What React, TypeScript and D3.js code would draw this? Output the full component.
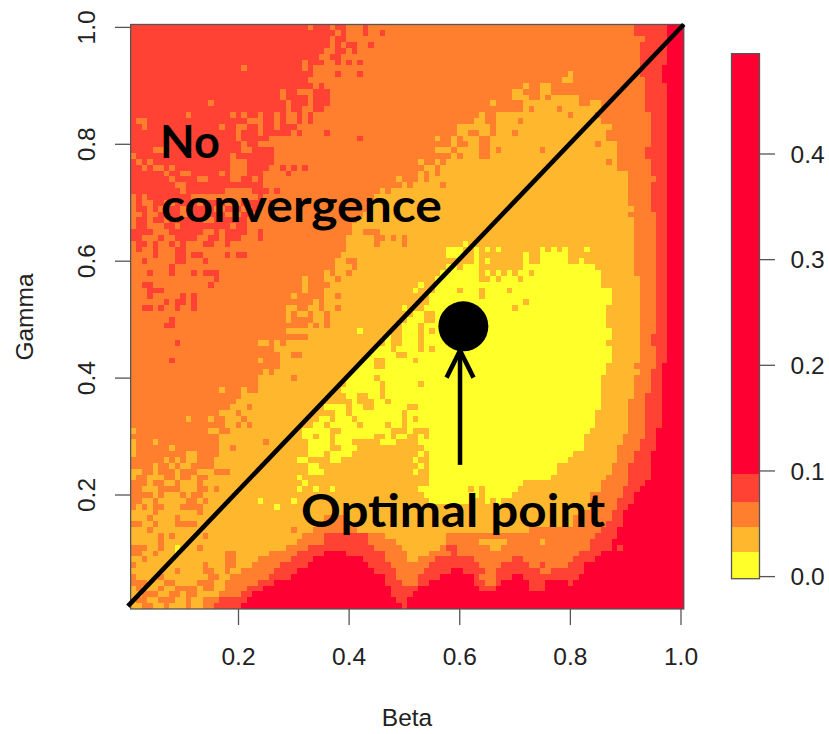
import * as d3 from "d3";

// band colours, lowest error first
const bandColors = ["#FFFF2A", "#FFB82E", "#FF7F2E", "#FF4233", "#FF0033"];
const bandEdges = [-0.002, 0.023, 0.047, 0.071, 0.097, 0.495];

const betaTicks = [0.2, 0.4, 0.6, 0.8, 1.0];
const gammaTicks = [0.2, 0.4, 0.6, 0.8, 1.0];
const errorTicks = [0, 0.1, 0.2, 0.3, 0.4];

const diagonalBeta = [0, 1.005];
const diagonalGamma = [0.01, 1.005];
const optimalPoint = [0.6065, 0.4885];
const arrowFrom = [0.6005, 0.2515];
const arrowTo = [0.6005, 0.447];

// one row per gamma step, top to bottom, written as "band endColumn band endColumn ..."
const rowRuns = [
  "3 32 2 33 3 36 2 37 3 39 2 42 3 43 2 91 3 97 4 100",
  "3 37 2 38 3 39 2 42 3 43 2 45 3 46 2 91 3 97 4 100",
  "3 36 2 37 3 39 2 93 3 97 4 100",
  "3 36 2 37 3 38 2 39 3 41 2 43 3 44 2 92 3 97 4 100",
  "3 35 2 37 3 39 2 40 3 41 2 92 3 97 4 100",
  "3 34 2 36 3 38 2 92 3 97 4 100",
  "3 31 2 32 3 35 2 37 3 38 2 39 3 40 2 41 3 42 2 92 3 97 4 100",
  "3 20 2 21 3 31 2 32 3 33 2 92 3 96 4 100",
  "3 33 2 37 3 38 2 41 3 42 2 79 1 80 2 92 3 96 4 100",
  "3 32 2 78 1 80 2 93 3 96 4 100",
  "3 33 2 34 3 35 2 71 1 72 2 74 1 76 2 93 3 97 4 100",
  "3 27 2 28 3 30 2 33 3 36 2 69 1 71 2 74 1 76 2 93 3 97 4 100",
  "3 27 2 28 3 32 2 33 3 36 2 69 1 72 2 74 1 75 2 76 1 81 2 93 3 97 4 100",
  "3 14 2 15 3 28 2 29 3 32 2 33 3 36 2 65 1 66 2 71 1 81 2 83 1 85 2 93 3 97 4 100",
  "3 28 2 29 3 31 2 33 3 35 2 71 1 72 2 73 1 77 2 78 1 85 2 93 3 97 4 100",
  "3 10 2 11 3 18 2 19 3 20 2 21 3 23 2 24 3 26 2 27 3 28 2 30 3 31 2 32 3 33 2 63 1 64 2 66 1 79 2 80 1 84 2 94 3 97 4 100",
  "3 1 2 3 3 21 2 24 3 26 2 27 3 28 2 30 3 31 2 32 3 33 2 62 1 64 2 66 1 70 2 71 1 85 2 94 3 97 4 100",
  "3 2 2 3 3 16 2 17 3 19 2 21 3 23 2 24 3 26 2 27 3 30 2 59 1 65 2 66 1 87 2 94 3 97 4 100",
  "3 19 2 20 3 23 2 24 3 29 2 30 3 31 2 35 3 36 2 59 1 61 2 63 1 65 2 66 1 69 2 70 1 86 2 94 3 97 4 100",
  "3 19 2 20 3 25 2 41 3 42 2 55 1 56 2 58 1 59 2 60 1 63 2 65 1 86 2 94 3 97 4 100",
  "3 20 2 21 3 23 2 28 2 58 1 59 2 61 1 63 2 65 1 84 2 85 1 88 2 94 3 97 4 100",
  "3 4 2 6 3 20 2 22 3 26 2 55 1 58 2 59 1 63 2 65 1 66 2 67 1 74 2 75 1 88 2 93 3 97 4 100",
  "2 1 3 18 2 19 3 26 2 58 1 59 2 60 1 63 2 65 1 88 2 93 3 97 4 100",
  "3 1 2 2 3 3 2 4 3 18 2 21 3 26 2 52 1 53 2 55 1 56 2 57 1 86 2 87 1 88 2 94 3 97 4 100",
  "3 2 2 3 3 4 2 6 3 7 2 8 3 18 2 21 3 25 2 27 3 28 2 29 3 30 2 31 3 32 2 53 1 55 2 56 1 88 2 94 3 97 4 100",
  "3 6 2 7 3 9 2 11 3 16 2 17 3 18 2 21 3 24 2 28 3 29 2 52 1 53 2 54 1 55 2 56 1 90 2 94 3 97 4 100",
  "3 7 2 8 3 12 2 14 3 18 2 20 3 22 2 23 3 24 2 48 1 49 2 52 1 53 2 54 1 90 2 95 3 97 4 100",
  "3 8 2 10 3 24 2 49 1 50 2 51 1 56 2 57 1 90 2 94 3 97 4 100",
  "3 9 2 10 3 17 2 22 3 25 2 26 3 27 2 45 1 46 2 47 1 90 2 94 3 97 4 100",
  "2 1 3 2 2 3 3 11 2 23 3 24 2 44 1 90 2 94 3 97 4 100",
  "2 1 3 2 2 4 3 6 2 8 3 12 2 13 3 17 2 20 3 24 2 25 3 26 2 43 1 90 2 94 3 97 4 100",
  "2 1 3 3 2 4 3 5 2 7 3 9 2 10 3 15 2 17 3 20 2 22 3 23 2 43 1 91 2 94 3 97 4 100",
  "2 2 3 3 2 5 3 9 2 11 3 17 2 20 3 22 2 42 1 90 2 95 3 97 4 100",
  "2 1 3 3 2 4 3 6 2 7 3 13 2 15 3 21 2 41 1 91 2 95 3 97 4 100",
  "2 1 3 3 2 6 3 8 2 9 3 18 2 19 3 21 2 40 1 91 2 95 3 97 4 100",
  "3 4 2 7 3 13 2 15 3 16 2 17 3 21 2 23 3 24 2 40 1 42 2 45 1 91 2 95 3 97 4 100",
  "3 2 2 5 3 6 2 8 3 12 2 14 3 16 2 17 3 20 2 23 3 24 2 39 1 44 2 46 1 47 2 48 1 49 2 50 1 91 2 95 3 97 4 100",
  "2 1 3 3 2 4 3 5 2 7 3 8 2 9 3 10 2 13 3 15 2 17 3 18 2 39 1 44 2 45 1 49 2 50 1 60 0 61 1 91 2 95 3 97 4 100",
  "2 1 3 2 2 4 3 5 2 8 3 10 2 39 1 57 0 60 1 62 0 63 1 64 0 65 1 66 0 67 1 74 0 75 1 76 0 77 1 78 0 79 1 82 0 83 1 91 2 95 3 97 4 100",
  "2 4 3 5 2 8 3 10 2 11 3 13 2 17 3 18 2 19 3 21 2 38 1 57 0 60 1 62 0 63 1 71 0 72 1 74 0 79 1 91 2 95 3 97 4 100",
  "2 2 3 3 2 8 3 10 2 13 3 14 2 37 1 39 2 41 1 62 0 63 1 64 0 65 1 71 0 72 1 74 0 79 1 81 0 82 1 91 2 95 3 97 4 100",
  "2 7 3 8 2 37 1 40 2 41 1 57 0 59 1 60 0 63 1 71 0 84 1 91 2 95 3 97 4 100",
  "2 3 3 4 2 7 3 8 2 11 3 12 2 13 3 16 2 35 1 36 2 37 1 39 2 40 1 56 0 63 1 64 0 65 1 66 0 67 1 68 0 69 1 70 0 72 1 73 0 85 1 91 2 95 3 97 4 100",
  "2 15 3 16 2 31 1 32 2 35 1 37 2 38 1 55 0 63 1 65 0 66 1 67 0 70 1 71 0 85 1 92 2 95 3 97 4 100",
  "2 2 3 4 2 14 3 15 2 31 1 32 2 36 1 52 0 53 1 55 0 85 1 92 2 95 3 97 4 100",
  "2 3 3 6 2 31 1 32 2 35 1 51 0 52 1 55 0 59 1 60 0 63 1 64 0 68 1 69 0 87 1 92 2 95 3 97 4 100",
  "2 3 3 4 2 9 3 10 2 11 3 12 2 29 1 30 2 35 1 37 2 38 1 54 0 63 1 64 0 87 1 92 2 95 3 97 4 100",
  "2 6 3 7 2 8 3 10 2 11 3 12 2 33 1 34 2 35 1 54 0 71 1 72 0 87 1 92 2 95 3 97 4 100",
  "2 2 3 4 2 5 3 6 2 8 3 9 2 11 3 12 2 28 1 30 2 32 1 34 2 35 1 37 2 38 1 49 0 50 1 53 0 69 1 70 0 86 1 92 2 95 3 97 4 100",
  "2 28 1 29 2 30 1 32 2 33 1 35 2 36 1 51 0 53 1 55 0 86 1 92 2 95 3 97 4 100",
  "2 7 3 8 2 28 1 29 2 33 1 35 2 36 1 50 0 53 1 55 0 86 1 92 2 95 3 97 4 100",
  "2 6 3 8 2 32 1 33 2 34 1 35 2 36 1 49 0 52 1 53 0 86 1 92 2 95 3 97 4 100",
  "2 28 1 41 0 42 1 49 0 52 1 53 0 54 1 55 0 87 1 92 2 95 3 97 4 100",
  "2 32 1 46 0 47 1 49 0 52 1 53 0 87 1 92 2 94 3 97 4 100",
  "2 8 3 9 2 23 1 25 2 26 1 27 2 28 1 46 0 47 1 49 0 52 1 53 0 86 1 92 2 94 3 97 4 100",
  "2 26 1 44 0 47 1 48 0 52 1 53 0 54 1 55 0 87 1 92 2 95 3 97 4 100",
  "2 27 1 29 2 31 1 43 0 48 1 50 0 87 1 92 2 95 3 97 4 100",
  "2 7 3 8 2 23 1 24 2 27 1 42 0 44 1 46 0 51 1 52 0 87 1 92 2 95 3 97 4 100",
  "2 27 1 41 0 44 1 46 0 86 1 91 2 95 3 96 4 100",
  "2 24 1 25 2 26 1 40 0 86 1 92 2 94 3 96 4 100",
  "2 23 1 29 2 30 1 39 0 44 1 45 0 85 1 91 2 94 3 96 4 100",
  "2 23 1 39 0 45 1 46 0 52 1 53 0 85 1 91 2 94 3 96 4 100",
  "2 16 1 17 2 20 1 21 2 23 1 38 0 45 1 46 0 85 1 91 2 94 3 96 4 100",
  "2 20 1 39 0 41 1 43 0 45 1 46 0 85 1 91 2 93 3 96 4 100",
  "2 19 1 40 0 41 1 44 0 46 1 47 0 85 1 90 2 93 3 96 4 100",
  "2 18 1 21 2 22 1 35 0 39 1 40 0 42 1 44 0 50 1 52 0 85 1 90 2 93 3 96 4 100",
  "2 16 1 19 2 20 1 37 0 39 1 40 0 49 1 50 0 84 1 90 2 93 3 96 4 100",
  "2 10 1 11 2 14 1 15 2 17 1 20 2 21 1 34 0 36 1 37 0 40 1 41 0 49 1 50 0 51 1 52 0 84 1 90 2 93 3 96 4 100",
  "2 17 1 19 2 20 1 21 2 22 1 33 0 35 1 36 0 41 1 42 0 46 1 47 0 49 1 50 0 84 1 90 2 93 3 96 4 100",
  "1 1 2 14 1 16 2 18 1 31 0 36 1 38 0 47 1 50 0 51 1 54 0 83 1 90 2 93 3 95 4 100",
  "2 16 1 31 0 33 1 34 0 36 1 37 0 44 1 46 0 47 1 48 0 50 1 52 0 53 1 54 0 82 1 89 2 93 3 95 4 100",
  "1 1 2 4 1 5 2 16 1 24 2 25 1 32 0 36 1 37 0 40 1 45 0 48 1 52 0 82 1 89 2 92 3 95 4 100",
  "1 1 2 7 1 8 2 16 1 18 2 19 1 32 0 36 1 38 0 41 1 53 0 82 1 88 2 92 3 95 4 100",
  "1 1 2 10 1 12 2 16 1 32 0 35 1 36 0 40 1 52 0 53 1 54 0 80 1 88 2 91 3 94 4 100",
  "2 6 1 7 2 8 1 9 2 10 1 12 2 15 1 30 0 32 1 36 0 38 1 51 0 52 1 54 0 79 1 88 2 91 3 94 4 100",
  "2 4 1 5 2 7 1 8 2 9 1 11 2 15 1 32 0 34 1 52 0 53 1 54 0 77 1 87 2 90 3 94 4 100",
  "1 2 2 4 1 5 2 8 1 9 2 12 1 15 2 18 1 32 0 35 1 51 0 52 1 54 0 77 1 87 2 90 3 94 4 100",
  "1 1 2 3 1 6 2 8 1 9 2 11 1 12 2 14 1 30 0 31 1 54 0 76 1 86 2 90 3 94 4 100",
  "2 3 1 4 2 6 1 8 2 9 1 12 2 13 1 31 0 32 1 54 0 71 1 85 2 90 3 93 4 100",
  "2 2 1 5 2 9 1 12 2 14 1 15 2 16 1 30 0 31 1 33 0 34 1 36 0 37 1 52 0 61 1 62 0 63 1 64 0 70 1 85 2 89 3 92 4 100",
  "2 4 1 5 2 6 1 9 2 10 1 11 2 13 1 53 0 63 1 64 0 69 1 83 2 89 3 91 4 100",
  "2 2 1 4 2 5 1 10 2 12 1 13 2 14 1 23 0 24 1 29 0 30 1 54 0 62 1 64 0 65 1 66 0 67 1 83 2 88 3 91 4 100",
  "2 1 1 2 2 3 1 4 2 6 1 9 2 13 1 26 0 27 1 83 2 88 3 90 4 100",
  "1 4 2 5 1 12 2 13 1 82 2 87 3 89 4 100",
  "1 3 2 4 1 8 2 9 1 35 2 39 1 80 2 87 3 89 4 100",
  "2 2 1 4 2 5 1 8 2 12 1 34 2 40 1 80 2 86 3 89 4 100",
  "1 3 2 4 1 29 2 30 1 33 2 41 1 72 2 85 3 88 4 100",
  "1 5 2 6 1 7 2 8 1 13 2 14 1 31 2 35 3 43 2 46 1 57 2 84 3 88 4 100",
  "1 5 2 6 1 30 2 35 3 43 2 48 1 57 2 63 1 68 2 74 1 75 2 83 3 87 4 100",
  "2 3 1 5 2 6 1 8 0 9 1 12 2 13 1 28 2 32 3 44 2 49 1 56 2 57 3 59 2 65 1 67 2 83 3 87 4 88 3 89 4 100",
  "2 2 1 4 2 5 1 8 0 9 1 17 2 19 1 25 2 30 3 35 4 39 3 46 2 50 1 54 2 58 3 59 2 81 3 85 4 100",
  "1 2 2 3 1 17 2 19 1 23 2 29 3 33 4 42 3 46 2 50 1 52 2 55 3 62 2 69 3 71 2 80 3 84 4 100",
  "2 1 1 13 2 14 1 17 2 19 1 22 2 27 3 32 4 43 3 47 2 54 3 63 2 67 3 72 2 74 3 75 2 79 3 82 4 100",
  "1 8 2 9 1 13 2 15 1 17 2 18 1 20 2 26 3 30 4 44 3 48 2 53 3 58 4 60 3 64 2 66 3 74 2 76 3 82 4 100",
  "2 1 1 5 2 6 1 14 2 16 1 18 2 25 3 29 4 46 3 48 2 52 3 56 4 62 3 63 2 66 3 69 4 71 3 81 4 100",
  "2 3 1 6 2 8 1 12 2 15 1 17 2 23 3 26 4 46 3 49 2 52 3 54 4 62 3 64 2 66 3 67 4 72 3 75 4 79 3 80 4 100",
  "1 1 2 2 1 5 2 6 1 8 2 12 1 13 2 15 1 17 2 21 3 24 4 47 3 52 4 63 3 66 4 72 3 75 4 100",
  "1 2 2 5 1 7 2 9 1 10 2 12 1 16 2 20 3 22 4 47 3 51 4 100",
  "1 1 2 3 1 5 2 8 1 10 2 11 1 13 2 16 3 21 4 48 3 50 4 100",
  "1 2 2 4 1 6 2 7 1 10 2 11 1 13 2 15 3 20 4 49 3 50 4 100",
];

const cells = rowRuns.flatMap( ( row, r ) =>
{
    const parts = row.split( " " ).map( Number );
    const out: { band: number; c0: number; c1: number; r: number }[] = [];
    let start = 0;
    for ( let i = 0; i < parts.length; i += 2 )
    {
        out.push( { band: parts[ i ], c0: start, c1: parts[ i + 1 ], r } );
        start = parts[ i + 1 ];
    }
    return out;
} );

const x = d3.scaleLinear().domain( [ 0.2, 1.0 ] ).range( [ 238.5, 681 ] );
const y = d3.scaleLinear().domain( [ 0.2, 1.0 ] ).range( [ 495, 27.4 ] );
const legendY = d3.scaleLinear().domain( [ 0, 0.4 ] ).range( [ 576.6, 154 ] );

const FONT = "'Liberation Sans', Arial, sans-serif";
const NOTE_FONT = "Lato, 'Noto Sans', sans-serif";
const AXIS = "#555";
const LABEL = "#222";
const LABEL_SIZE = 24.5;

export default function App ()
{
    const left = x( 0.005 );
    const right = x( 1.005 );
    const top = y( 1.005 );
    const bottom = y( 0.005 );
    const colX = ( c: number ) => left + ( c / 100 ) * ( right - left );
    const rowY = ( r: number ) => top + ( r / 100 ) * ( bottom - top );

    const line = d3.line<number>()
        .x( d => x( d ) )
        .y( ( _, i ) => y( diagonalGamma[ i ] ) );

    const arrowTipX = x( arrowTo[ 0 ] );
    const arrowTipY = y( arrowTo[ 1 ] );

    return (
        <svg width={ 829 } height={ 734 } style={ { position: "absolute", left: 0, top: 0 } }>
            <rect width={ 829 } height={ 734 } fill="#fff" />

            {/* heatmap */}
            <g shapeRendering="crispEdges">
                { cells.map( ( d, i ) => (
                    <rect key={ i } x={ colX( d.c0 ) } y={ rowY( d.r ) }
                        width={ colX( d.c1 ) - colX( d.c0 ) } height={ rowY( d.r + 1 ) - rowY( d.r ) }
                        fill={ bandColors[ d.band ] } />
                ) ) }
            </g>

            <rect x={ left } y={ top } width={ right - left } height={ bottom - top } fill="none" stroke={ AXIS } strokeWidth={ 1.3 } />

            {/* x axis */}
            { betaTicks.map( t => (
                <g key={ t }>
                    <line x1={ x( t ) } x2={ x( t ) } y1={ bottom } y2={ 625 } stroke={ AXIS } strokeWidth={ 1.3 } />
                    <text x={ x( t ) } y={ 665 } textAnchor="middle" fontFamily={ FONT } fontSize={ LABEL_SIZE } fill={ LABEL }>{ t.toFixed( 1 ) }</text>
                </g>
            ) ) }
            <text x={ 407 } y={ 726 } textAnchor="middle" fontFamily={ FONT } fontSize={ LABEL_SIZE } fill={ LABEL }>Beta</text>

            {/* y axis */}
            { gammaTicks.map( t => (
                <g key={ t }>
                    <line x1={ left } x2={ 115 } y1={ y( t ) } y2={ y( t ) } stroke={ AXIS } strokeWidth={ 1.3 } />
                    <text transform={ `translate(95,${ y( t ) }) rotate(-90)` } textAnchor="middle" fontFamily={ FONT } fontSize={ LABEL_SIZE } fill={ LABEL }>{ t.toFixed( 1 ) }</text>
                </g>
            ) ) }
            <text transform="translate(33,317) rotate(-90)" textAnchor="middle" fontFamily={ FONT } fontSize={ LABEL_SIZE } fill={ LABEL }>Gamma</text>

            {/* annotations */}
            <path d={ line( diagonalBeta ) ?? "" } fill="none" stroke="#000" strokeWidth={ 4.6 } />
            <circle cx={ x( optimalPoint[ 0 ] ) } cy={ y( optimalPoint[ 1 ] ) } r={ 25 } fill="#000" />
            <g stroke="#000" strokeWidth={ 4.5 } fill="none">
                <line x1={ x( arrowFrom[ 0 ] ) } x2={ arrowTipX } y1={ y( arrowFrom[ 1 ] ) } y2={ arrowTipY } />
                <path d={ `M${ arrowTipX - 13.5 },${ arrowTipY + 27 }L${ arrowTipX },${ arrowTipY }L${ arrowTipX + 13.5 },${ arrowTipY + 27 }` } />
            </g>
            <text x={ 160 } y={ 158 } fontFamily={ NOTE_FONT } fontWeight={ 700 } fontSize={ 45 } fill="#000">No</text>
            <text x={ 161 } y={ 222 } fontFamily={ NOTE_FONT } fontWeight={ 700 } fontSize={ 45 } textLength={ 281 } lengthAdjust="spacingAndGlyphs" fill="#000">convergence</text>
            <text x={ 301 } y={ 527 } fontFamily={ NOTE_FONT } fontWeight={ 700 } fontSize={ 45 } textLength={ 304 } lengthAdjust="spacingAndGlyphs" fill="#000">Optimal point</text>

            {/* colour key */}
            <g shapeRendering="crispEdges">
                { bandColors.map( ( c, i ) => (
                    <rect key={ c } x={ 731.5 } width={ 28 } y={ legendY( bandEdges[ i + 1 ] ) }
                        height={ legendY( bandEdges[ i ] ) - legendY( bandEdges[ i + 1 ] ) } fill={ c } />
                ) ) }
            </g>
            <rect x={ 731.5 } width={ 28 } y={ legendY( bandEdges[ 5 ] ) } height={ legendY( bandEdges[ 0 ] ) - legendY( bandEdges[ 5 ] ) } fill="none" stroke={ AXIS } strokeWidth={ 1.3 } />
            { errorTicks.map( t => (
                <g key={ t }>
                    <line x1={ 759.5 } x2={ 775 } y1={ legendY( t ) } y2={ legendY( t ) } stroke={ AXIS } strokeWidth={ 1.3 } />
                    <text x={ 790.5 } y={ legendY( t ) + 8.7 } fontFamily={ FONT } fontSize={ LABEL_SIZE } fill={ LABEL }>{ t.toFixed( 1 ) }</text>
                </g>
            ) ) }
        </svg>
    );
}
